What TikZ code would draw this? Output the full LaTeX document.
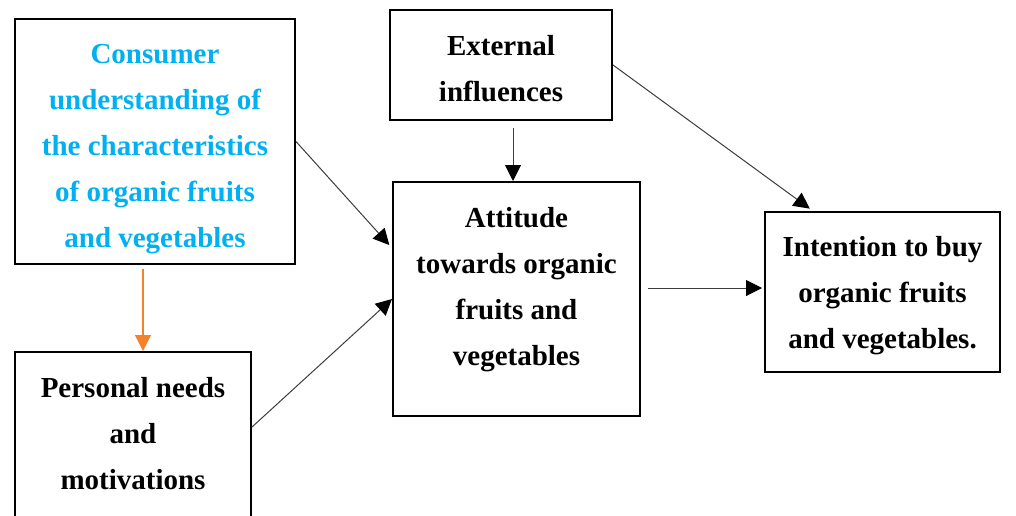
\documentclass[tikz,border=0pt]{standalone}
\usepackage{fontspec}
\setmainfont{Liberation Serif}
\usetikzlibrary{arrows.meta,calc}

\definecolor{conscyan}{RGB}{0,176,240}
\definecolor{arrorange}{RGB}{245,130,40}
\definecolor{arrgray}{RGB}{60,60,60}

\begin{document}
\begin{tikzpicture}[x=0.5pt, y=-0.5pt,
    box/.style={draw, line width=1pt, rectangle, inner sep=0pt},
    txt/.style={align=center, inner sep=0pt, font=\fontsize{14.5}{23}\selectfont\bfseries},
    arr/.style={draw=arrgray, line width=0.5pt, -{Triangle[length=8pt,width=8pt,color=black]}},
    orarr/.style={draw=arrorange, line width=0.6pt, -{Triangle[length=8pt,width=8pt,color=arrorange]}}]
    \useasboundingbox (0,0) rectangle (1016,515);

    % boxes
    \node[box, minimum width=140pt, minimum height=122.5pt] (cons) at (155,141.5) {};
    \node[box, minimum width=111pt, minimum height=55pt] (ext) at (501,65) {};
    \node[box, minimum width=123.5pt, minimum height=117pt] (att) at (516.5,299) {};
    \node[box, minimum width=117.5pt, minimum height=80pt] (int) at (882.5,292) {};
    \node[box, minimum width=118pt, minimum height=89pt] (pers) at (133,441) {};

    % texts
    \node[txt, text=conscyan] (constext) at (155,149.5)
      {Consumer\\ understanding of\\ the characteristics\\ of organic fruits\\ and vegetables};
    \node[txt] (exttext) at (501,69) {External\\ influences};
    \node[txt] (atttext) at (516.5,290) {Attitude\\ towards organic\\ fruits and\\ vegetables};
    \node[txt] (inttext) at (882.5,296) {Intention to buy\\ organic fruits\\ and vegetables.};
    \node[txt] (perstext) at (133,434) {Personal needs\\ and\\ motivations};

    % connectors
    \draw[orarr, shorten <=2pt] ($(cons.south)+(-12,0)$) -- ($(pers.north)+(10,0)$);
    \draw[arr, shorten >=2pt] (cons.east) -- ($(att.west)+(0,-51)$);
    \draw[arr] ($(pers.east)+(0,-14)$) -- (att.west);
    \draw[arr, shorten <=3.5pt] ($(ext.south -| att.north)+(-3.5,0)$) -- ($(att.north)+(-3.5,0)$);
    \draw[arr, shorten >=2pt] (ext.east) -- ($(int.north)+(-69.5,0)$);
    \draw[arr, shorten <=3.5pt, shorten >=1pt] ($(att.east)+(0,-11)$) -- ($(int.west)+(0,-4)$);
\end{tikzpicture}
\end{document}
